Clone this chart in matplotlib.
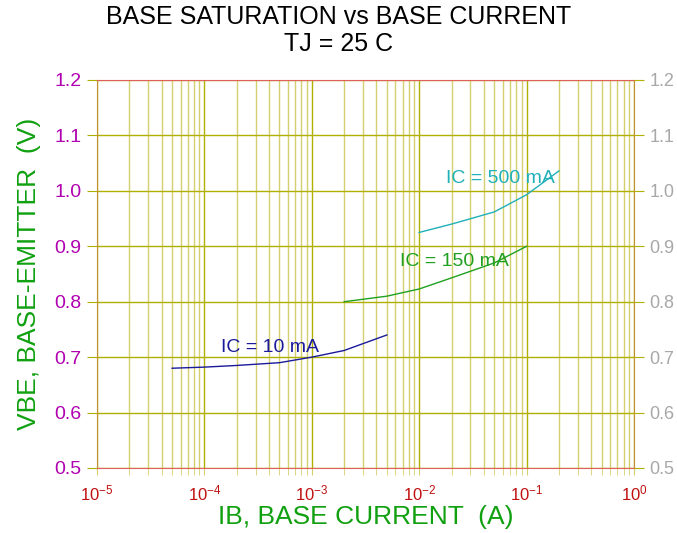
import numpy as np
import matplotlib
matplotlib.use("Agg")
import matplotlib.pyplot as plt
from matplotlib.ticker import LogLocator, NullFormatter, FixedLocator

plt.rcParams['font.family'] = ['Liberation Sans', 'DejaVu Sans']

# IC = 10 mA
ib_10 = [5e-5, 1e-4, 2e-4, 5e-4, 1e-3, 2e-3, 5e-3]
vbe_10 = [0.680, 0.682, 0.685, 0.690, 0.700, 0.712, 0.740]
# IC = 150 mA
ib_150 = [2e-3, 5e-3, 1e-2, 2e-2, 5e-2, 1e-1]
vbe_150 = [0.800, 0.810, 0.823, 0.843, 0.870, 0.900]
# IC = 500 mA
ib_500 = [1e-2, 2e-2, 5e-2, 1e-1, 2e-1]
vbe_500 = [0.925, 0.940, 0.962, 0.993, 1.036]

yticks = [0.5, 0.6, 0.7, 0.8, 0.9, 1.0, 1.1, 1.2]
xdecades = [1e-5, 1e-4, 1e-3, 1e-2, 1e-1, 1e0]
xtick_labels = [r'$\mathregular{10^{-5}}$', r'$\mathregular{10^{-4}}$', r'$\mathregular{10^{-3}}$',
                r'$\mathregular{10^{-2}}$', r'$\mathregular{10^{-1}}$', r'$\mathregular{10^{0}}$']

major_grid = '#b0b000'
minor_grid = '#d4d070'

fig = plt.figure(figsize=(6.77, 5.33), dpi=100)
ax = fig.add_axes([97/677, 1 - 468/533, (634-97)/677, (468-80)/533])

ax.plot(ib_10, vbe_10, color='#1a1a9a', lw=1)
ax.plot(ib_150, vbe_150, color='#20a020', lw=1)
ax.plot(ib_500, vbe_500, color='#20b0b8', lw=1)

ax.set_xscale('log')
ax.set_xlim(1e-5, 1)
ax.set_ylim(0.5, 1.2)

ax.xaxis.set_major_locator(FixedLocator(xdecades))
ax.set_xticklabels(xtick_labels)
ax.xaxis.set_minor_locator(LogLocator(base=10, subs=np.arange(2, 10)))
ax.xaxis.set_minor_formatter(NullFormatter())
ax.set_yticks(yticks)
ax.set_yticklabels([f'{v:.1f}' for v in yticks])

ax.grid(True, which='major', color=major_grid, lw=1)
ax.grid(True, which='minor', axis='x', color=minor_grid, lw=1)

ax.tick_params(axis='x', which='both', direction='out', length=5, color=minor_grid,
               labelcolor='#c01010', labelsize=12, pad=6)
ax.tick_params(axis='y', which='major', direction='out', length=7, color=major_grid,
               labelcolor='#b000b0', labelsize=14, right=True, labelright=False, pad=4)

for s in ['top', 'bottom']:
    ax.spines[s].set_color('#e06060')
for s in ['left', 'right']:
    ax.spines[s].set_color('#c09030')

# right-hand labels in grey
ax2 = ax.twinx()
ax2.set_ylim(ax.get_ylim())
ax2.set_yticks(yticks)
ax2.set_yticklabels([f'{v:.1f}' for v in yticks])
ax2.tick_params(axis='y', length=7, color=major_grid, labelcolor='#a8a8a8', labelsize=13, pad=4)
for s in ax2.spines.values():
    s.set_visible(False)

ax.text(4.1e-4, 0.718, 'IC = 10 mA', color='#1a1a9a', fontsize=14, ha='center', va='center')
ax.text(0.0215, 0.872, 'IC = 150 mA', color='#20a020', fontsize=14, ha='center', va='center')
ax.text(0.0565, 1.023, 'IC = 500 mA', color='#20b0b8', fontsize=14, ha='center', va='center')

ax.set_xlabel('IB, BASE CURRENT  (A)', color='#10a010', fontsize=19, labelpad=1)
ax.set_ylabel('VBE, BASE-EMITTER  (V)', color='#10a010', fontsize=19, labelpad=10)

fig.text(0.5, 1 - 17/533, 'BASE SATURATION vs BASE CURRENT', ha='center', va='center', fontsize=18)
fig.text(0.5, 1 - 44/533, 'TJ = 25 C', ha='center', va='center', fontsize=18)

fig.savefig('out.png', dpi=100)
